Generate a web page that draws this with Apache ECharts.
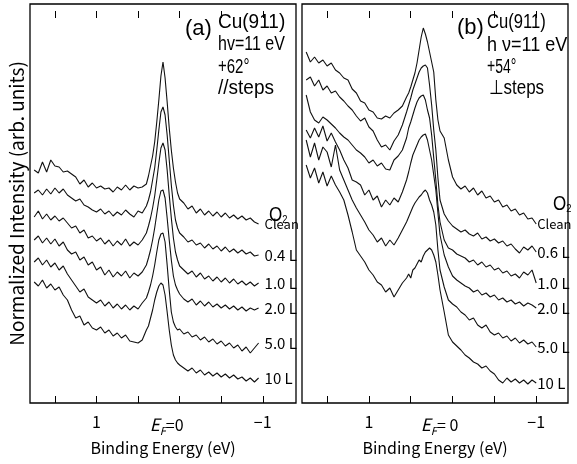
<!DOCTYPE html>
<html lang="en">
<head>
<meta charset="UTF-8">
<title>Cu(911) O2 spectra</title>
<script src="https://cdn.jsdelivr.net/npm/echarts@6/dist/echarts.min.js"></script>
<style>
  html, body { margin: 0; padding: 0; background: #fff; }
  #chart { width: 577px; height: 464px; }
</style>
</head>
<body>
<div id="chart"></div>
<script>
// binding energies (eV) of the sampled points, panel (a) and panel (b)
const energyA = [1.75,1.70,1.65,1.60,1.55,1.50,1.45,1.40,1.35,1.30,1.25,1.20,1.15,1.10,1.05,1.00,0.95,0.90,0.85,0.80,0.75,0.70,0.65,0.60,0.55,0.50,0.45,0.40,
  0.375,0.35,0.325,0.30,0.275,0.25,0.225,0.20,0.175,0.15,0.125,0.10,0.075,0.05,0.025,
  0.00,-0.05,-0.10,-0.15,-0.20,-0.25,-0.30,-0.35,-0.40,-0.45,-0.50,-0.55,-0.60,-0.65,-0.70,-0.75,-0.80,-0.85,-0.90,-0.95];
const energyB = [1.75,1.70,1.65,1.60,1.55,1.50,1.45,1.40,1.35,1.30,1.25,1.20,1.15,1.10,1.05,1.00,0.95,0.90,0.85,0.80,0.75,0.70,0.65,0.60,0.55,
  0.525,0.50,0.475,0.45,0.425,0.40,0.375,0.35,0.325,0.30,0.275,0.25,0.225,0.20,0.175,
  0.15,0.10,0.05,0.00,-0.05,-0.10,-0.15,-0.20,-0.25,-0.30,-0.35,-0.40,-0.45,-0.50,-0.55,-0.60,-0.65,-0.70,-0.75,-0.80,-0.85,-0.90,-0.95,-1.00];

// panel (a): +62 deg, // steps  (stacked, offset intensities)
const cleanA = [233,230,241,231,243,237,236,231,232,229,226,219,223,216,220,215,217,214,215,211,216,213,218,213,217,215,216,219,
  227,237,247,261,281,303,327,341,325,301,275,253,235,221,210,
  204,200,194,197,190,194,188,192,187,191,186,190,185,188,184,187,183,185,181,179];
const dose04A = [210,213,208,214,209,215,210,214,208,205,202,204,198,196,193,191,194,189,192,187,191,188,193,189,186,192,190,197,
  203,211,223,235,253,273,291,296,288,268,243,218,198,183,175,
  170,166,161,163,158,160,155,159,154,157,152,156,151,154,150,153,149,151,147,148];
const dose10A = [186,192,184,189,183,187,182,185,180,175,177,170,173,165,167,162,165,159,163,157,162,158,164,157,161,158,163,170,
  177,185,195,207,223,240,255,260,253,233,208,185,165,151,143,
  137,133,129,132,126,130,124,127,122,126,121,125,120,124,119,122,118,121,117,120];
const dose20A = [163,167,160,165,159,164,157,161,153,149,151,143,146,138,141,133,136,128,133,126,131,127,132,125,130,127,131,138,
  145,153,163,175,189,203,212,213,205,185,163,143,127,118,113,
  109,104,101,104,98,102,97,101,96,99,95,98,94,97,93,96,92,95,93,95];
const dose50A = [141,145,138,143,136,140,133,137,129,123,117,111,114,106,103,100,103,97,101,95,99,94,98,93,97,94,100,105,
  111,118,127,138,151,163,169,170,161,138,113,91,81,76,73,
  74,69,71,66,68,63,66,61,64,59,62,57,60,55,58,52,56,50,55,60];
const dose100A = [121,117,123,115,119,113,116,108,103,93,85,87,78,81,75,73,76,70,73,67,70,65,68,62,61,60,63,73,
  77,85,93,103,111,117,120,118,108,91,73,58,48,43,40,
  38,35,32,35,30,33,28,31,27,30,26,29,25,28,24,26,22,25,21,25];

// panel (b): +54 deg, perpendicular to steps
const cleanB = [351,341,346,340,343,337,340,333,330,325,323,314,310,302,300,293,291,285,284,287,285,290,293,297,306,
  310,316,323,330,340,353,366,375,369,361,351,341,331,303,283,
  272,265,243,226,218,214,217,211,215,208,212,205,207,201,203,196,198,192,194,188,190,184,185,179];
const dose06B = [323,326,317,323,313,317,310,312,306,302,297,293,287,282,285,276,272,263,256,258,253,262,268,278,291,
  298,305,313,319,325,331,335,337,338,335,318,298,273,253,225,
  203,189,182,177,174,171,173,169,167,170,164,166,162,164,160,162,157,159,154,150,156,153,157,151];
const dose10B = [308,291,283,280,286,283,279,275,270,266,263,258,253,250,246,240,243,237,240,234,233,243,247,253,265,
  275,281,288,295,301,305,307,308,303,293,285,268,245,223,198,
  181,163,155,153,149,147,145,141,143,138,141,136,138,133,135,130,132,127,129,125,131,128,133,120];
const dose20B = [273,265,275,266,277,262,270,261,253,243,235,223,221,218,208,213,203,207,196,203,198,205,201,211,223,
  231,240,248,253,258,263,266,268,269,263,253,243,228,213,190,
  168,148,136,127,123,120,117,115,111,113,108,110,106,108,103,105,101,103,99,101,97,100,98,95];
const dose50B = [263,246,260,243,256,251,236,258,233,223,213,203,195,188,181,173,168,161,165,157,163,158,165,173,181,
  186,191,196,200,203,206,208,211,213,210,203,198,191,178,153,
  133,116,103,99,96,91,88,83,85,78,75,78,71,68,70,65,67,62,65,60,63,59,61,56];
const dose100B = [238,225,235,220,231,217,227,218,211,203,188,171,153,147,141,133,128,121,118,111,115,106,113,120,125,
  129,125,133,135,139,143,141,147,151,153,155,153,148,141,128,
  113,91,68,61,57,53,48,45,41,39,35,37,32,29,23,20,25,21,24,20,23,19,23,20];

const namesA = ['Clean', '0.4 L', '1.0 L', '2.0 L', '5.0 L', '10 L'];
const namesB = ['Clean', '0.6 L', '1.0 L', '2.0 L', '5.0 L', '10 L'];

const SANS = "'Liberation Sans',Arial,sans-serif";
const CJK = "'Noto Sans CJK JP','Noto Sans',sans-serif";

// frame: 266 px wide panels; energy ranges of the two panels
const PANEL_TOP = 4, PANEL_H = 399, PANEL_W = 266;
const rangeA = [-1.4, 1.8], rangeB = [-1.38, 1.8];
const leftA = 30, leftB = 302;

// tick grids: borderless grids spanning exactly 1.5 .. -1 eV, so ticks every 0.5 eV line up with the panel.
function tickGrid(left, range) {
  const ppe = PANEL_W / (range[1] - range[0]);
  return { left: left + (range[1] - 1.5) * ppe, top: PANEL_TOP, width: 2.5 * ppe, height: PANEL_H, show: false, containLabel: false };
}

const chart = echarts.init(document.getElementById('chart'), null, { renderer: 'canvas' });

function mainX(gi, range) {
  return {
    gridIndex: gi, type: 'value', min: range[0], max: range[1], inverse: true, position: 'bottom',
    axisLine: { show: false, onZero: false }, splitLine: { show: false }, axisTick: { show: false }, axisLabel: { show: false },
    name: 'Binding Energy (eV)', nameLocation: 'middle', nameGap: 37,
    nameTextStyle: { color: '#000', fontSize: 16, fontFamily: CJK }
  };
}

function tickX(gi, pos, efLabel) {
  const top = pos === 'top';
  return {
    gridIndex: gi, type: 'value', min: -1, max: 1.5, interval: 0.5, inverse: true, position: pos,
    axisLine: { show: false, onZero: false }, splitLine: { show: false },
    axisTick: { show: true, inside: true, length: 7, lineStyle: { color: '#000', width: 1 } },
    axisLabel: {
      show: true, margin: 11, color: top ? 'rgba(0,0,0,0)' : '#000', fontSize: 16, fontFamily: CJK,
      formatter: v => {
        if (top || Math.abs(v - Math.round(v)) > 1e-6) return '';
        if (Math.abs(v) < 1e-6) return '{e|E}{f|F}{n|' + efLabel + '}';
        return v < 0 ? '\u2212' + (-v) : String(v);
      },
      rich: {
        e: { fontSize: 17, fontStyle: 'italic', fontFamily: CJK, color: '#000', lineHeight: 22 },
        f: { fontSize: 11, fontStyle: 'italic', fontFamily: CJK, color: '#000', lineHeight: 12, verticalAlign: 'bottom' },
        n: { fontSize: 16, fontFamily: CJK, color: '#000', lineHeight: 22, padding: [0, 26, 0, 0] }
      }
    }
  };
}

function hiddenY(gi, max, name) {
  return {
    gridIndex: gi, type: 'value', min: 0, max: max,
    axisLine: { show: false, onZero: false }, axisTick: { show: false }, axisLabel: { show: false }, splitLine: { show: false },
    name: name || '', nameLocation: 'middle', nameGap: 4, nameRotate: 90,
    nameTextStyle: { color: '#000', fontSize: 19, fontFamily: CJK }
  };
}

function curves(energy, sets, names, xi, yi, dx) {
  return sets.map((vals, i) => ({
    type: 'line', name: names[i], xAxisIndex: xi, yAxisIndex: yi,
    data: energy.map((e, k) => [e, vals[k]]),
    showSymbol: false, silent: true, animation: false,
    lineStyle: { color: '#111', width: 1.1 },
    endLabel: {
      show: true, formatter: names[i], align: 'left', offset: [dx, 0], color: '#000',
      fontFamily: CJK, fontSize: i === 0 ? 13 : 15
    }
  }));
}

// annotation text, squeezed horizontally to mimic the condensed original font
function note(x, y, text, size, sx) {
  return { type: 'text', x: x, y: y, scaleX: sx, style: { text: text, fill: '#000', fontSize: size, fontFamily: SANS } };
}
function o2(x, y) {
  return { type: 'text', x: x, y: y, scaleX: 0.85, style: { text: '{o|O}{s|2}', rich: {
    o: { fontSize: 20, fontFamily: SANS, fill: '#000', lineHeight: 20 },
    s: { fontSize: 11, fontFamily: SANS, fill: '#000', lineHeight: 10, verticalAlign: 'bottom' } } } };
}

const option = {
  backgroundColor: '#fff',
  animation: false,
  grid: [
    { left: leftA, top: PANEL_TOP, width: PANEL_W, height: PANEL_H, show: true, borderColor: '#000', borderWidth: 1.3, containLabel: false },
    { left: leftB, top: PANEL_TOP, width: PANEL_W, height: PANEL_H, show: true, borderColor: '#000', borderWidth: 1.3, containLabel: false },
    tickGrid(leftA, rangeA), tickGrid(leftA, rangeA),
    tickGrid(leftB, rangeB), tickGrid(leftB, rangeB)
  ],
  xAxis: [
    mainX(0, rangeA), mainX(1, rangeB),
    tickX(2, 'bottom', '=0'), tickX(3, 'top', ''),
    tickX(4, 'bottom', '= 0'), tickX(5, 'top', '')
  ],
  yAxis: [hiddenY(0, 399, 'Normalized Intensity (arb. units)'), hiddenY(1, 399),
    hiddenY(2, 1), hiddenY(3, 1), hiddenY(4, 1), hiddenY(5, 1)],
  series: [
    ...curves(energyA, [cleanA, dose04A, dose10A, dose20A, dose50A, dose100A], namesA, 0, 0, 14),
    ...curves(energyB, [cleanB, dose06B, dose10B, dose20B, dose50B, dose100B], namesB, 1, 1, 9)
  ],
  graphic: [
    note(185, 18, '(a)', 22, 1),
    note(218, 12, 'Cu(911)', 20, 0.95),
    note(218, 34, 'hv=11 eV', 20, 0.8),
    note(218, 57, '+62\u00B0', 20, 0.75),
    note(218, 78, '//steps', 20, 0.95),
    o2(269, 205),
    note(457, 17, '(b)', 22, 1),
    note(487, 12, 'Cu(911)', 20, 0.83),
    note(487, 35, 'h \u03BD=11 eV', 20, 0.9),
    note(487, 57, '+54\u00B0', 20, 0.7),
    note(489, 78, '\u22A5steps', 20, 0.85),
    o2(553, 194)
  ]
};

chart.setOption(option);
</script>
</body>
</html>
